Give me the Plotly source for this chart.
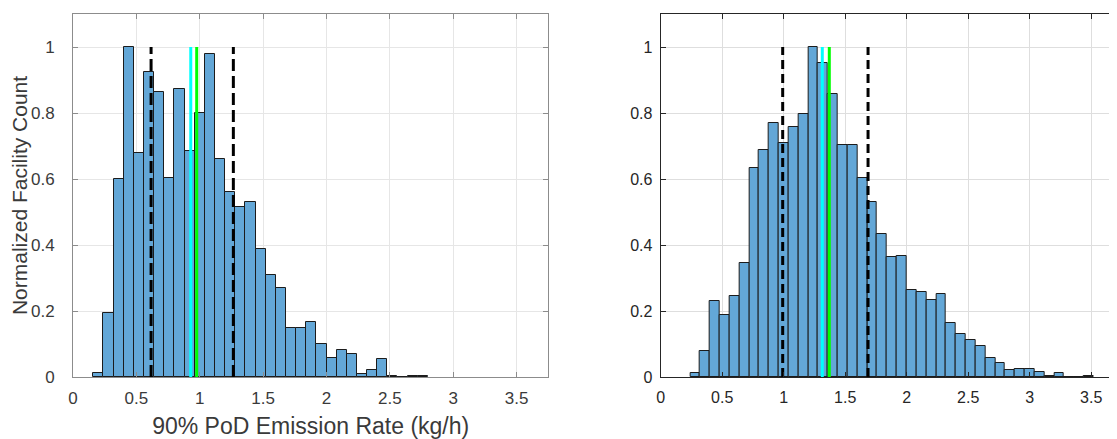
import plotly.graph_objs as go

# bin layout (both panels use 0.08 kg/h bins)
bin_width = 0.08
left_first_edge = 0.16
right_first_edge = 0.24

# normalized facility counts per bin
left_counts = [0.012, 0.194, 0.599, 1.0, 0.679, 0.923, 0.865, 0.604, 0.874, 0.685,
               0.801, 0.978, 0.661, 0.562, 0.514, 0.531, 0.387, 0.310, 0.270, 0.148,
               0.148, 0.166, 0.100, 0.057, 0.081, 0.071, 0.010, 0.022, 0.054, 0.004,
               0.001, 0.003, 0.003]
right_counts = [0.012, 0.080, 0.229, 0.189, 0.246, 0.345, 0.633, 0.688, 0.770, 0.709,
                0.759, 0.797, 1.0, 0.952, 0.858, 0.704, 0.704, 0.603, 0.530, 0.433,
                0.364, 0.367, 0.263, 0.258, 0.233, 0.251, 0.164, 0.129, 0.112, 0.095,
                0.058, 0.041, 0.021, 0.024, 0.024, 0.016, 0.003, 0.012, 0.0, 0.0,
                0.004]

# reference lines (kg/h)
left_dashed = [0.616, 1.265]
left_cyan = 0.929
left_green = 0.976
right_dashed = [0.992, 1.686]
right_cyan = 1.314
right_green = 1.371
line_top = 1.0

y_ticks = [0, 0.2, 0.4, 0.6, 0.8, 1]
y_tick_text = ['0', '0.2', '0.4', '0.6', '0.8', '1']
x_ticks = [0, 0.5, 1, 1.5, 2, 2.5, 3, 3.5]
x_tick_text = ['0', '0.5', '1', '1.5', '2', '2.5', '3', '3.5']

bar_color = '#63a7d7'
font = 'Liberation Sans, Arial, sans-serif'

def centers(first_edge, n):
    return [first_edge + bin_width * (i + 0.5) for i in range(n)]

fig = go.Figure()

panels = [
    ('x', 'y', left_first_edge, left_counts, left_dashed, left_cyan, left_green, '12px,5px'),
    ('x2', 'y2', right_first_edge, right_counts, right_dashed, right_cyan, right_green, '9px,5px'),
]
for xa, ya, edge, counts, dashed, cyan, green, dash in panels:
    fig.add_trace(go.Bar(x=centers(edge, len(counts)), y=counts, width=bin_width,
                         marker=dict(color=bar_color, line=dict(color='#1c1c1c', width=1)),
                         xaxis=xa, yaxis=ya, showlegend=False))
    for d in dashed:
        fig.add_trace(go.Scatter(x=[d, d], y=[0, line_top], mode='lines',
                                 line=dict(color='black', width=3, dash=dash),
                                 xaxis=xa, yaxis=ya, showlegend=False))
    fig.add_trace(go.Scatter(x=[cyan, cyan], y=[0, line_top], mode='lines',
                             line=dict(color='#00ffff', width=3),
                             xaxis=xa, yaxis=ya, showlegend=False))
    fig.add_trace(go.Scatter(x=[green, green], y=[0, line_top], mode='lines',
                             line=dict(color='#00ff00', width=3),
                             xaxis=xa, yaxis=ya, showlegend=False))

grid_left = '#e6e6e6'
grid_right = '#dedede'

# page body has an 8px margin, so the figure is 8px smaller than the window
fig.update_layout(
    width=1109, height=431,
    margin=dict(l=65, r=0, t=6, b=62),
    plot_bgcolor='white', paper_bgcolor='white',
    font=dict(family=font, color='#303030'),
    bargap=0,
    xaxis=dict(domain=[0, 0.4553], range=[0, 3.75], tickvals=x_ticks, ticktext=x_tick_text,
               showgrid=True, gridcolor=grid_left, zeroline=False, automargin=False,
               showline=True, linecolor='#8c8c8c', mirror='ticks',
               ticks='inside', ticklen=5, tickcolor='#8c8c8c',
               tickfont=dict(size=17, color='#3a3a3a'), ticklabelstandoff=6,
               title=dict(text='90% PoD Emission Rate (kg/h)', font=dict(size=23, color='#3a3a3a'),
                          standoff=12)),
    yaxis=dict(domain=[0, 1], range=[0, 1.1], tickvals=y_ticks, ticktext=y_tick_text,
               showgrid=True, gridcolor=grid_left, zeroline=False, automargin=False,
               showline=True, linecolor='#8c8c8c', mirror='ticks',
               ticks='inside', ticklen=5, tickcolor='#8c8c8c',
               tickfont=dict(size=17, color='#3a3a3a'), ticklabelstandoff=14,
               title=dict(text='Normalized Facility Count', font=dict(size=21, color='#3a3a3a'),
                          standoff=2)),
    xaxis2=dict(domain=[0.5629, 1], range=[0, 3.71], anchor='y2', tickvals=x_ticks, ticktext=x_tick_text,
                showgrid=True, gridcolor=grid_right, zeroline=False, automargin=False,
                showline=True, linecolor='#262626', mirror='ticks',
                ticks='inside', ticklen=5, tickcolor='#262626',
                tickfont=dict(size=16, color='#262626'), ticklabelstandoff=6),
    yaxis2=dict(domain=[0, 1], range=[0, 1.1], anchor='x2', tickvals=y_ticks, ticktext=y_tick_text,
                showgrid=True, gridcolor=grid_right, zeroline=False, automargin=False,
                showline=True, linecolor='#262626', mirror='ticks',
                ticks='inside', ticklen=5, tickcolor='#262626',
                tickfont=dict(size=16, color='#262626'), ticklabelstandoff=4),
)

fig.write_html('out.html')
